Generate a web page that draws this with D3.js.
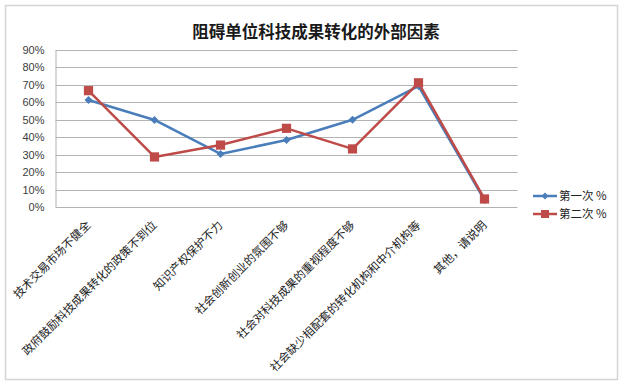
<!DOCTYPE html>
<html>
<head>
<meta charset="utf-8">
<script src="https://d3js.org/d3.v7.min.js"></script>
<style>
  body { margin: 0; background: #fff; }
  svg text { font-family: "Noto Sans CJK SC", "Liberation Sans", sans-serif; }
</style>
</head>
<body>
<div id="chart"></div>
<script>
// data
var categories = ["技术交易市场不健全", "政府鼓励科技成果转化的政策不到位", "知识产权保护不力",
  "社会创新创业的氛围不够", "社会对科技成果的重视程度不够", "社会缺少相配套的转化机构和中介机构等", "其他，请说明"];
var seriesNames = ["第一次 %", "第二次 %"];
var first = [61.3, 49.9, 30.4, 38.4, 50.0, 69.3, 4.0];
var second = [66.7, 28.7, 35.5, 45.1, 33.3, 71.2, 4.6];
var yTicks = [0, 10, 20, 30, 40, 50, 60, 70, 80, 90];
var colors = ["#4A7EBB", "#BE4B48"];

var W = 623, H = 387;
var svg = d3.select("#chart").append("svg").attr("width", W).attr("height", H);

// frame
svg.append("rect").attr("x", 5.5).attr("y", 5.5).attr("width", 612).attr("height", 374)
   .attr("fill", "#fff").attr("stroke", "#d4d4d4").attr("stroke-width", 1.5);

svg.append("text").attr("x", 316).attr("y", 38).attr("text-anchor", "middle")
   .attr("font-size", 16.5).attr("font-weight", "bold").attr("fill", "#1a1a1a")
   .text("阻碍单位科技成果转化的外部因素");

var x = d3.scaleBand().domain(categories).range([55.5, 517.5]);
var y = d3.scaleLinear().domain([0, 90]).range([207, 50]);

// gridlines
svg.append("g").selectAll("line").data(yTicks).join("line")
   .attr("x1", 55.5).attr("x2", 517.5)
   .attr("y1", function(d) { return Math.round(y(d)) + 0.5; })
   .attr("y2", function(d) { return Math.round(y(d)) + 0.5; })
   .attr("stroke", "#b3b3b3").attr("stroke-width", 1);

var yAxis = svg.append("g").attr("transform", "translate(55.5,0)")
   .call(d3.axisLeft(y).tickValues(yTicks).tickSize(0).tickPadding(11).tickFormat(function(d) { return d + "%"; }));
yAxis.select(".domain").attr("stroke", "#b3b3b3");
yAxis.selectAll("text").attr("font-size", 11).attr("fill", "#404040")
   .style("font-family", "'Liberation Sans', sans-serif");

// category labels, rotated
svg.append("g").selectAll("text").data(categories).join("text")
   .attr("transform", function(d) { return "translate(" + (x(d) + x.bandwidth() / 2) + ",223) rotate(-45)"; })
   .attr("text-anchor", "end").attr("dy", "0.35em")
   .attr("font-size", 11.5).attr("fill", "#222")
   .text(function(d) { return d; });

var line = d3.line()
   .x(function(d, i) { return x(categories[i]) + x.bandwidth() / 2; })
   .y(function(d) { return y(d); });

var all = [first, second];
all.forEach(function(vals, s) {
  svg.append("path").datum(vals).attr("d", line)
     .attr("fill", "none").attr("stroke", colors[s]).attr("stroke-width", 2.5)
     .attr("stroke-linejoin", "round");
});

var diamond = d3.symbol().type(d3.symbolDiamond2).size(40);
var square = d3.symbol().type(d3.symbolSquare).size(85);

svg.append("g").selectAll("path").data(first).join("path")
   .attr("transform", function(d, i) { return "translate(" + (x(categories[i]) + x.bandwidth() / 2) + "," + y(d) + ")"; })
   .attr("d", diamond).attr("fill", colors[0]);
svg.append("g").selectAll("path").data(second).join("path")
   .attr("transform", function(d, i) { return "translate(" + (x(categories[i]) + x.bandwidth() / 2) + "," + y(d) + ")"; })
   .attr("d", square).attr("fill", colors[1]);

// legend
var legend = svg.append("g").selectAll("g").data(seriesNames).join("g")
   .attr("transform", function(d, i) { return "translate(533," + (196 + i * 18) + ")"; });
legend.append("line").attr("x1", 0).attr("x2", 24)
   .attr("stroke", function(d, i) { return colors[i]; }).attr("stroke-width", 2.5);
legend.append("path").attr("transform", "translate(12,0)")
   .attr("d", function(d, i) { return i == 0 ? d3.symbol().type(d3.symbolDiamond2).size(30)() : d3.symbol().type(d3.symbolSquare).size(64)(); })
   .attr("fill", function(d, i) { return colors[i]; });
legend.append("text").attr("x", 26).attr("dy", "0.35em")
   .attr("font-size", 11.5).attr("fill", "#222")
   .text(function(d) { return d; });
</script>
</body>
</html>
